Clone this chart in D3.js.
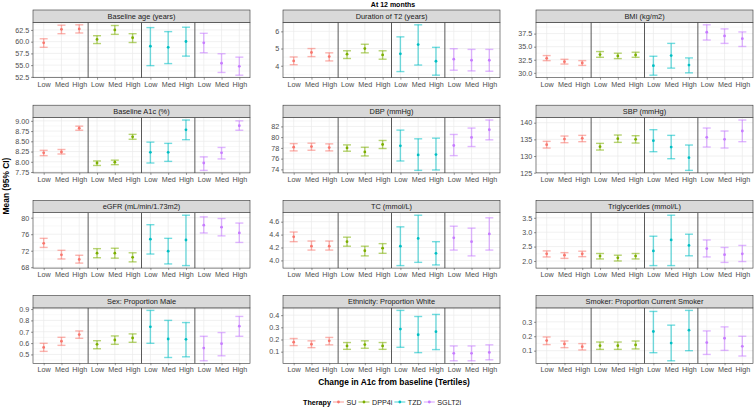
<!DOCTYPE html>
<html>
<head>
<meta charset="utf-8">
<script src="https://cdn.jsdelivr.net/npm/d3@7"></script>
<style>
body { margin: 0; background: #fff; }
svg { display: block; font-family: "Liberation Sans", Arial, sans-serif; }
</style>
</head>
<body>
<svg id="chart" width="756" height="407"></svg>
<script>
var therapies = ["SU", "DPP4i", "TZD", "SGLT2i"]
var tertiles = ["Low", "Med", "High"]
var colours = ["#F8766D", "#7CAE00", "#00BFC4", "#C77CFF"]

// order in every array: SU Low/Med/High, DPP4i Low/Med/High, TZD ..., SGLT2i ...
var ageMean = [59.75, 62.64, 62.72, 60.47, 62.5, 60.83, 59.02, 58.8, 60.04, 59.75, 55.4, 54.75]
var ageLo = [58.8, 61.7, 61.85, 59.6, 61.56, 59.82, 54.89, 55.33, 56.92, 57.64, 53.44, 52.86]
var ageHi = [60.62, 63.51, 63.59, 61.27, 63.44, 61.7, 63.0, 62.14, 63.08, 61.78, 57.43, 56.7]
var ageTicks = ["52.5", "55.0", "57.5", "60.0", "62.5"]

var durMean = [4.28, 4.77, 4.53, 4.67, 5.0, 4.63, 4.69, 5.23, 4.26, 4.38, 4.32, 4.32]
var durLo = [4.06, 4.53, 4.28, 4.42, 4.75, 4.38, 3.66, 4.04, 3.45, 3.74, 3.70, 3.68]
var durHi = [4.51, 5.0, 4.75, 4.87, 5.25, 4.87, 5.68, 6.38, 5.07, 4.99, 4.95, 4.95]
var durTicks = ["4", "5", "6"]

var bmiMean = [32.78, 32.13, 31.88, 33.49, 33.23, 33.43, 31.36, 33.3, 31.49, 37.76, 37.05, 36.53]
var bmiLo = [32.33, 31.68, 31.42, 32.97, 32.72, 32.97, 29.55, 30.9, 30.0, 36.27, 35.63, 35.04]
var bmiHi = [33.3, 32.59, 32.33, 34.07, 33.75, 33.94, 33.17, 35.63, 32.85, 39.18, 38.4, 37.82]
var bmiTicks = ["30.0", "32.5", "35.0", "37.5"]

var a1cMean = [8.22, 8.24, 8.82, 7.97, 7.99, 8.61, 8.23, 8.23, 8.78, 7.97, 8.22, 8.88]
var a1cLo = [8.15, 8.19, 8.77, 7.91, 7.93, 8.55, 7.97, 8.01, 8.54, 7.79, 8.07, 8.77]
var a1cHi = [8.28, 8.30, 8.87, 8.02, 8.04, 8.67, 8.48, 8.45, 9.02, 8.12, 8.35, 9.0]
var a1cTicks = ["7.75", "8.00", "8.25", "8.50", "8.75", "9.00"]

var dbpMean = [78.13, 78.25, 78.06, 78.0, 77.25, 78.63, 78.38, 76.69, 76.75, 78.44, 79.94, 81.38]
var dbpLo = [77.44, 77.56, 77.44, 77.38, 76.5, 77.88, 75.56, 73.81, 73.88, 76.56, 78.25, 79.5]
var dbpHi = [78.8, 78.88, 78.75, 78.56, 78.12, 79.38, 81.31, 79.69, 79.81, 80.5, 81.69, 83.19]
var dbpTicks = ["74", "76", "78", "80", "82"]

var sbpMean = [133.4, 135.1, 135.3, 132.8, 135.2, 135.0, 134.6, 132.7, 129.5, 135.6, 135.0, 137.5]
var sbpLo = [132.4, 134.0, 134.3, 131.8, 134.1, 133.9, 131.3, 129.2, 125.7, 132.7, 132.4, 134.3]
var sbpHi = [134.4, 136.0, 136.2, 133.8, 136.3, 136.1, 137.9, 136.2, 133.3, 138.4, 137.5, 140.8]
var sbpTicks = ["125", "130", "135", "140"]

var egfrMean = [73.8, 71.0, 69.9, 71.4, 71.4, 70.4, 74.8, 71.9, 74.6, 78.2, 77.7, 76.3]
var egfrLo = [72.8, 70.0, 69.0, 70.3, 70.2, 69.3, 71.2, 68.8, 68.4, 76.3, 75.6, 74.0]
var egfrHi = [75.0, 72.1, 70.9, 72.5, 72.6, 71.5, 78.3, 75.0, 80.6, 80.2, 79.8, 78.7]
var egfrTicks = ["68", "72", "76", "80"]

var tcMean = [4.365, 4.22, 4.22, 4.29, 4.15, 4.19, 4.22, 4.34, 4.11, 4.35, 4.29, 4.41]
var tcLo = [4.29, 4.16, 4.16, 4.22, 4.07, 4.11, 3.92, 3.97, 3.93, 4.16, 4.07, 4.16]
var tcHi = [4.44, 4.30, 4.30, 4.36, 4.22, 4.26, 4.52, 4.70, 4.29, 4.53, 4.50, 4.66]
var tcTicks = ["4.0", "4.2", "4.4", "4.6"]

var trigMean = [2.25, 2.20, 2.25, 2.17, 2.11, 2.17, 2.35, 2.73, 2.54, 2.43, 2.22, 2.25]
var trigLo = [2.14, 2.09, 2.15, 2.07, 2.0, 2.07, 1.84, 1.84, 2.18, 2.14, 1.95, 1.98]
var trigHi = [2.35, 2.29, 2.34, 2.26, 2.20, 2.26, 2.86, 3.59, 2.93, 2.73, 2.47, 2.54]
var trigTicks = ["2.0", "2.5", "3.0", "3.5"]

var maleMean = [0.562, 0.616, 0.675, 0.589, 0.627, 0.645, 0.743, 0.636, 0.633, 0.556, 0.595, 0.749]
var maleLo = [0.527, 0.58, 0.642, 0.55, 0.589, 0.607, 0.598, 0.473, 0.479, 0.444, 0.488, 0.66]
var maleHi = [0.598, 0.651, 0.707, 0.621, 0.663, 0.681, 0.888, 0.80, 0.781, 0.66, 0.693, 0.835]
var maleTicks = ["0.5", "0.6", "0.7", "0.8", "0.9"]

var whiteMean = [0.178, 0.161, 0.189, 0.147, 0.158, 0.147, 0.286, 0.239, 0.264, 0.086, 0.086, 0.094]
var whiteLo = [0.15, 0.133, 0.156, 0.119, 0.128, 0.119, 0.136, 0.092, 0.117, 0.025, 0.025, 0.033]
var whiteHi = [0.208, 0.189, 0.217, 0.175, 0.189, 0.175, 0.439, 0.389, 0.406, 0.147, 0.147, 0.156]
var whiteTicks = ["0.1", "0.2", "0.3", "0.4"]

var smokeMean = [0.17, 0.147, 0.128, 0.135, 0.135, 0.14, 0.233, 0.153, 0.242, 0.156, 0.186, 0.13]
var smokeLo = [0.142, 0.121, 0.105, 0.109, 0.109, 0.112, 0.086, 0.03, 0.10, 0.074, 0.102, 0.063]
var smokeHi = [0.195, 0.167, 0.149, 0.16, 0.16, 0.167, 0.372, 0.277, 0.379, 0.237, 0.265, 0.20]
var smokeTicks = ["0.1", "0.2", "0.3"]

var panels = [
    { title: "Baseline age (years)", mean: ageMean, lo: ageLo, hi: ageHi, ticks: ageTicks },
    { title: "Duration of T2 (years)", mean: durMean, lo: durLo, hi: durHi, ticks: durTicks },
    { title: "BMI (kg/m2)", mean: bmiMean, lo: bmiLo, hi: bmiHi, ticks: bmiTicks },
    { title: "Baseline A1c (%)", mean: a1cMean, lo: a1cLo, hi: a1cHi, ticks: a1cTicks },
    { title: "DBP (mmHg)", mean: dbpMean, lo: dbpLo, hi: dbpHi, ticks: dbpTicks },
    { title: "SBP (mmHg)", mean: sbpMean, lo: sbpLo, hi: sbpHi, ticks: sbpTicks },
    { title: "eGFR (mL/min/1.73m2)", mean: egfrMean, lo: egfrLo, hi: egfrHi, ticks: egfrTicks },
    { title: "TC (mmol/L)", mean: tcMean, lo: tcLo, hi: tcHi, ticks: tcTicks },
    { title: "Triglycerides (mmol/L)", mean: trigMean, lo: trigLo, hi: trigHi, ticks: trigTicks },
    { title: "Sex: Proportion Male", mean: maleMean, lo: maleLo, hi: maleHi, ticks: maleTicks },
    { title: "Ethnicity: Proportion White", mean: whiteMean, lo: whiteLo, hi: whiteHi, ticks: whiteTicks },
    { title: "Smoker: Proportion Current Smoker", mean: smokeMean, lo: smokeLo, hi: smokeHi, ticks: smokeTicks }
]

// layout
var colLeft = [33, 283, 536]
var panelW = 217
var rowTop = [10, 105.2, 200.4, 295.6]
var stripH = 12.3
var panelH = 55.4

var svg = d3.select("#chart")

panels.forEach(function (p, i) {
    var col = i % 3, row = Math.floor(i / 3)
    var g = svg.append("g")
        .attr("transform", `translate(${colLeft[col]}, ${rowTop[row] + stripH})`)

    var rows = d3.range(12).map(function (k) {
        return { k: k, t: Math.floor(k / 3), mean: p.mean[k], lo: p.lo[k], hi: p.hi[k] }
    })

    var x = d3.scalePoint().domain(d3.range(12)).range([0, panelW]).padding(0.6)
    var step = x.step()
    var lo = d3.min(p.lo), hi = d3.max(p.hi), pad = (hi - lo) * 0.05
    var y = d3.scaleLinear().domain([lo - pad, hi + pad]).range([panelH, 0])
    var tickVals = p.ticks.map(Number)

    // grid (minor then major)
    var tstep = tickVals[1] - tickVals[0]
    var minor = []
    for (var v = tickVals[0] - tstep / 2; v <= y.domain()[1]; v += tstep) {
        if (v >= y.domain()[0]) minor.push(v)
    }
    g.selectAll(".minor").data(minor).join("line")
        .attr("x1", 0).attr("x2", panelW)
        .attr("y1", d => y(d)).attr("y2", d => y(d))
        .attr("stroke", "#EBEBEB").attr("stroke-width", 0.35)
    g.selectAll(".majorY").data(tickVals).join("line")
        .attr("x1", 0).attr("x2", panelW)
        .attr("y1", d => y(d)).attr("y2", d => y(d))
        .attr("stroke", "#EBEBEB").attr("stroke-width", 0.7)
    g.selectAll(".majorX").data(d3.range(12)).join("line")
        .attr("x1", d => x(d)).attr("x2", d => x(d))
        .attr("y1", 0).attr("y2", panelH)
        .attr("stroke", "#EBEBEB").attr("stroke-width", 0.7)

    // separators between therapy groups
    g.selectAll(".sep").data([2, 5, 8]).join("line")
        .attr("x1", d => x(d) + step / 2).attr("x2", d => x(d) + step / 2)
        .attr("y1", 0).attr("y2", panelH)
        .attr("stroke", "#595959").attr("stroke-width", 1)

    // error bars
    var eb = g.selectAll(".eb").data(rows).join("g")
        .attr("stroke", d => colours[d.t])
        .attr("stroke-opacity", 0.55)
        .attr("stroke-width", 1.4)
    eb.append("line")
        .attr("x1", d => x(d.k)).attr("x2", d => x(d.k))
        .attr("y1", d => y(d.lo)).attr("y2", d => y(d.hi))
    eb.append("line")
        .attr("x1", d => x(d.k) - 4).attr("x2", d => x(d.k) + 4)
        .attr("y1", d => y(d.lo)).attr("y2", d => y(d.lo))
    eb.append("line")
        .attr("x1", d => x(d.k) - 4).attr("x2", d => x(d.k) + 4)
        .attr("y1", d => y(d.hi)).attr("y2", d => y(d.hi))

    g.selectAll(".pt").data(rows).join("circle")
        .attr("cx", d => x(d.k)).attr("cy", d => y(d.mean))
        .attr("r", 1.4)
        .attr("fill", d => colours[d.t])

    // border
    g.append("rect")
        .attr("width", panelW).attr("height", panelH)
        .attr("fill", "none").attr("stroke", "#333").attr("stroke-width", 0.6)

    // strip
    g.append("rect")
        .attr("y", -stripH).attr("width", panelW).attr("height", stripH)
        .attr("fill", "#D9D9D9").attr("stroke", "#333").attr("stroke-width", 0.6)
    g.append("text")
        .attr("x", panelW / 2).attr("y", -stripH / 2)
        .attr("dy", "0.35em")
        .attr("text-anchor", "middle")
        .attr("font-size", 7.4).attr("fill", "#1A1A1A")
        .text(p.title)

    // axes
    var yAxis = g.append("g")
        .call(d3.axisLeft(y).tickValues(tickVals).tickFormat((d, j) => p.ticks[j]).tickSize(2).tickPadding(1.8))
    var xAxis = g.append("g")
        .attr("transform", `translate(0, ${panelH})`)
        .call(d3.axisBottom(x).tickFormat(d => tertiles[d % 3]).tickSize(2).tickPadding(1.8))
    ;[yAxis, xAxis].forEach(function (a) {
        a.select(".domain").remove()
        a.selectAll(".tick line").attr("stroke", "#333").attr("stroke-width", 0.5)
        a.selectAll(".tick text").attr("fill", "#4D4D4D").attr("font-size", 7.2)
        a.attr("font-family", null)
    })
})

// titles
svg.append("text")
    .attr("x", 393).attr("y", 6.8)
    .attr("text-anchor", "middle")
    .attr("font-weight", "bold").attr("font-size", 7)
    .text("At 12 months")

svg.append("text")
    .attr("x", 394).attr("y", 385)
    .attr("text-anchor", "middle")
    .attr("font-weight", "bold").attr("font-size", 8.4)
    .text("Change in A1c from baseline (Tertiles)")

svg.append("text")
    .attr("transform", "translate(9, 186) rotate(-90)")
    .attr("text-anchor", "middle")
    .attr("font-weight", "bold").attr("font-size", 8.4)
    .text("Mean (95% CI)")

// legend, spread between x=303 and x=459
var legY = 402
var legStart = 303, legEnd = 459
var keyW = 11
var legTitle = svg.append("text")
    .attr("x", legStart).attr("y", legY).attr("dy", "0.35em")
    .attr("font-weight", "bold").attr("font-size", 7.2)
    .text("Therapy")
var labels = therapies.map(function (t) {
    return svg.append("text")
        .attr("y", legY).attr("dy", "0.35em")
        .attr("font-size", 7.2).attr("fill", "#1A1A1A")
        .text(t)
})
var textW = legTitle.node().getComputedTextLength() + d3.sum(labels, l => l.node().getComputedTextLength())
var gap = Math.max(2, (legEnd - legStart - textW - 4 * keyW - 4 * 2.5) / 4)
var lx = legStart + legTitle.node().getComputedTextLength() + gap
therapies.forEach(function (t, i) {
    svg.append("line")
        .attr("x1", lx).attr("x2", lx + keyW)
        .attr("y1", legY).attr("y2", legY)
        .attr("stroke", colours[i]).attr("stroke-opacity", 0.6).attr("stroke-width", 1.2)
    svg.append("circle")
        .attr("cx", lx + keyW / 2).attr("cy", legY).attr("r", 1.4)
        .attr("fill", colours[i])
    lx += keyW + 2.5
    labels[i].attr("x", lx)
    lx += labels[i].node().getComputedTextLength() + gap
})
</script>
</body>
</html>
